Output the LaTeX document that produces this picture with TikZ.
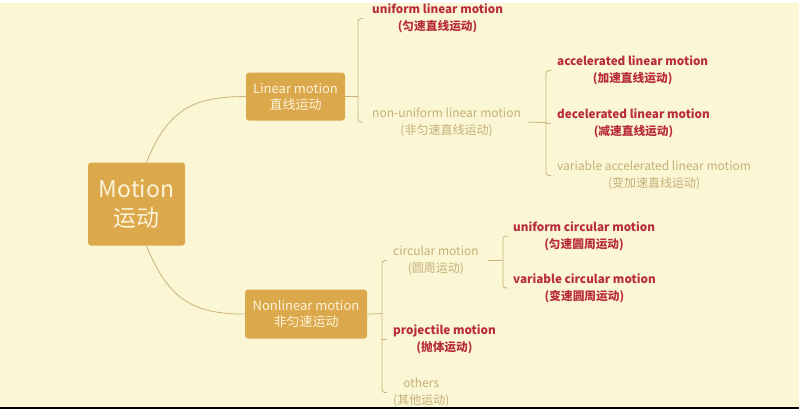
\documentclass[tikz,border=0pt]{standalone}
\usepackage{fontspec}
\setmainfont{Noto Sans CJK SC}
\usepackage{tikz}

\definecolor{paper}{RGB}{251,246,211}
\definecolor{gold}{RGB}{219,168,76}
\definecolor{cream}{RGB}{253,243,216}
\definecolor{crimson}{RGB}{184,45,60}
\definecolor{khaki}{RGB}{196,176,122}
\definecolor{stem}{RGB}{201,178,124}

\begin{document}
\begin{tikzpicture}[x=1pt, y=-1pt,
    box/.style={fill=gold, rounded corners=3pt, text=cream, align=center},
    leaf/.style={anchor=west, inner sep=4pt, align=center, font=\fontsize{12}{17}\selectfont},
    hot/.style={leaf, text=crimson, font=\bfseries\fontsize{11.7}{17}\selectfont},
    dim/.style={leaf, text=khaki},
    stem/.style={draw=stem, line width=0.8pt, rounded corners=3pt}]
    \fill[paper] (0,0) rectangle (799,406);
    \fill[black] (0,404) rectangle (799,406);
    % main boxes
    \node [box, minimum width=97pt, minimum height=83pt, font=\fontsize{23}{29}\selectfont] (0) at (136.5, 201.5) {Motion\\运动};
    \node [box, minimum width=99pt, minimum height=48pt, font=\fontsize{13}{16}\selectfont] (1) at (295.5, 94) {Linear motion\\直线运动};
    \node [box, minimum width=122pt, minimum height=49pt, font=\fontsize{13}{16}\selectfont] (2) at (306, 311.5) {Nonlinear motion\\非匀速运动};
    \draw [stem] ([xshift=10pt]0.north) .. controls +(22,-55) and +(-50,0) .. (1.west);
    \draw [stem] ([xshift=10pt]0.south) .. controls +(22,55) and +(-50,0) .. (2.west);
    % linear motion
    \node [hot] (3) at (368, 16) {uniform linear motion\\(匀速直线运动)};
    \node [dim] (4) at (368, 119.5) {non-uniform linear motion\\(非匀速直线运动)};
    \coordinate (b1) at (358, 94);
    \draw [stem] (1.east) -- (b1);
    \draw [stem] ([xshift=5pt]b1 |- 3.west) -- (b1 |- 3.west) -- (b1 |- 4.west) -- ([xshift=5pt]b1 |- 4.west);
    % non-uniform linear motion
    \node [hot] (5) at (553, 68) {accelerated linear motion\\(加速直线运动)};
    \node [hot] (6) at (553, 120.5) {decelerated linear motion\\(减速直线运动)};
    \node [dim] (7) at (553, 173) {variable accelerated linear motiom\\(变加速直线运动)};
    \coordinate (b2) at (546, 120);
    \draw [stem] ([xshift=3pt]4.east) -- (b2);
    \draw [stem] ([xshift=5pt]b2 |- 5.west) -- (b2 |- 5.west) -- (b2 |- 7.west) -- ([xshift=5pt]b2 |- 7.west);
    \draw [stem] (b2 |- 6.west) -- ([xshift=5pt]b2 |- 6.west);
    % nonlinear motion
    \node [dim] (8) at (389, 258) {circular motion\\(圆周运动)};
    \node [hot] (9) at (389, 337) {projectile motion\\(抛体运动)};
    \node [dim] (10) at (389, 390) {others\\(其他运动)};
    \coordinate (b3) at (382, 311);
    \draw [stem] (2.east) -- (b3);
    \draw [stem] ([xshift=5pt]b3 |- 8.west) -- (b3 |- 8.west) -- (b3 |- 10.west) -- ([xshift=5pt]b3 |- 10.west);
    \draw [stem] (b3 |- 9.west) -- ([xshift=5pt]b3 |- 9.west);
    % circular motion
    \node [hot] (11) at (509, 233.5) {uniform circular motion\\(匀速圆周运动)};
    \node [hot] (12) at (509, 285.5) {variable circular motion\\(变速圆周运动)};
    \coordinate (b4) at (503, 258);
    \draw [stem] ([xshift=5pt]8.east) -- (b4);
    \draw [stem] ([xshift=5pt]b4 |- 11.west) -- (b4 |- 11.west) -- (b4 |- 12.west) -- ([xshift=5pt]b4 |- 12.west);
\end{tikzpicture}
\end{document}
